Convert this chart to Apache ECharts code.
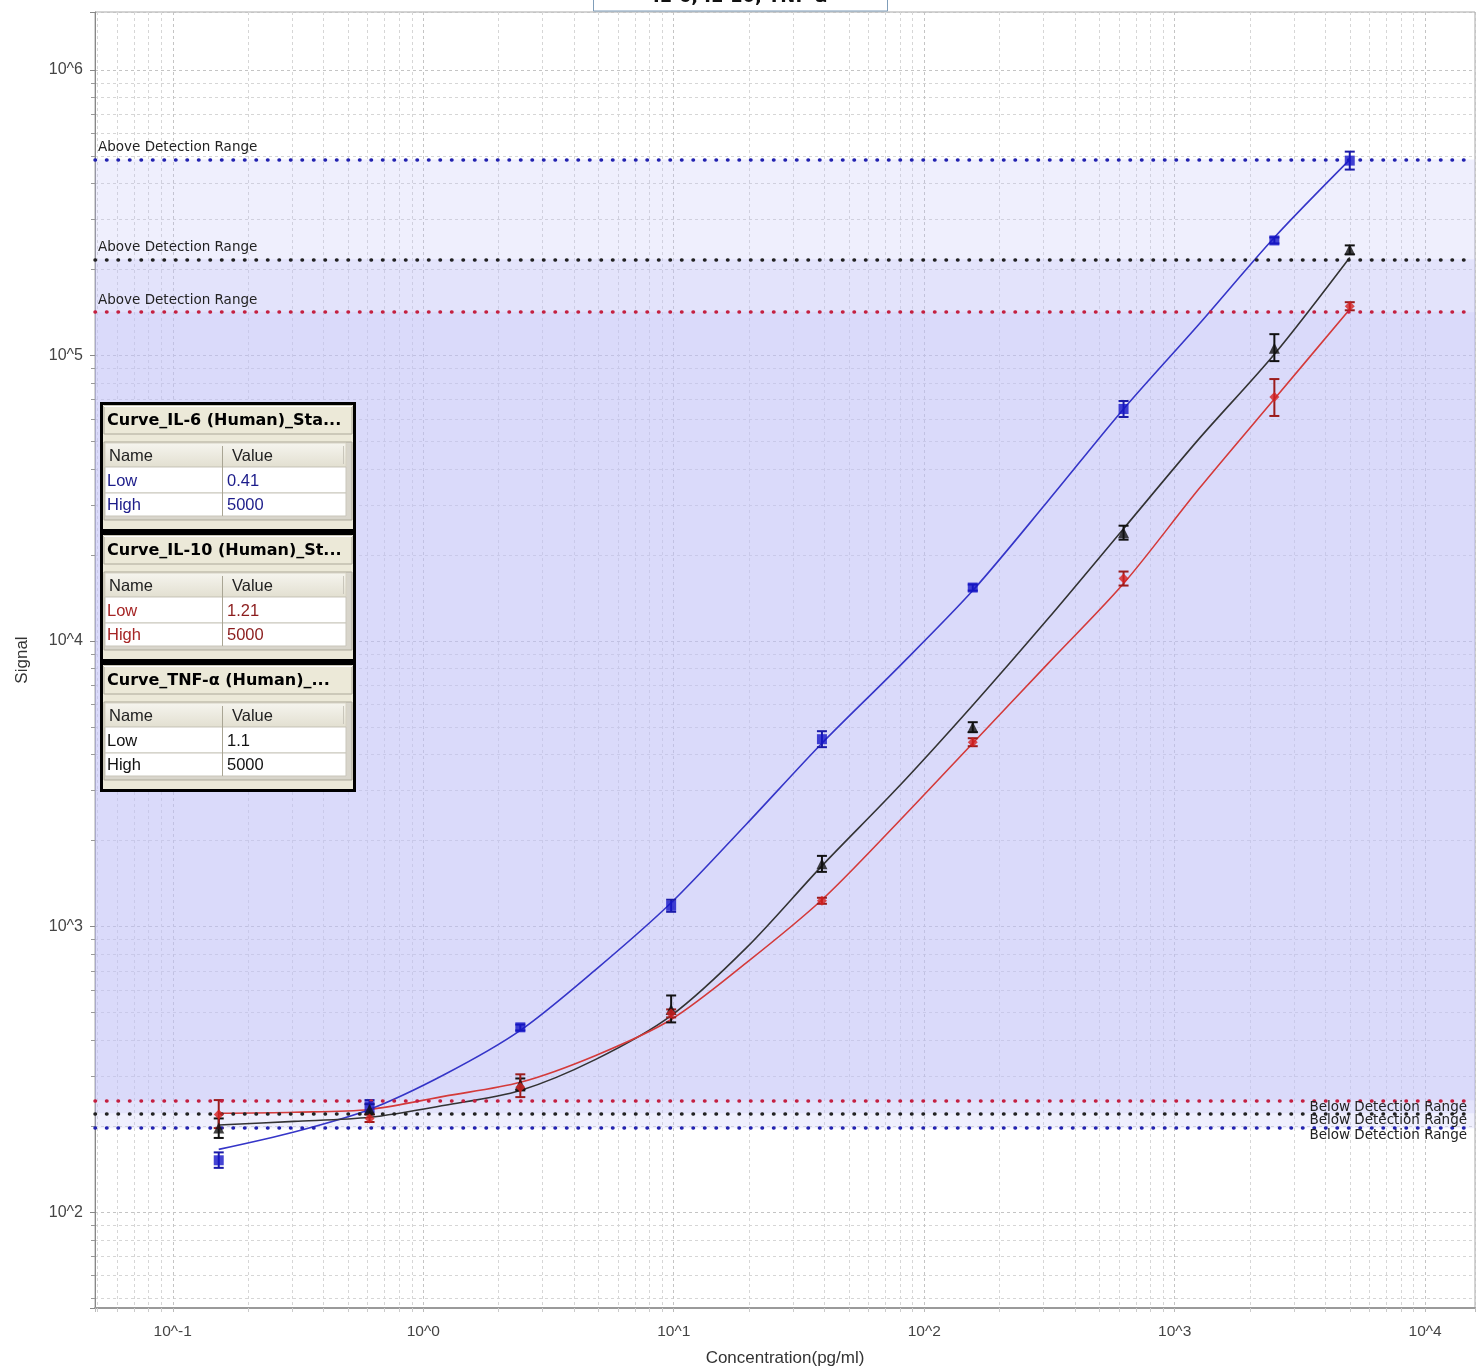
<!DOCTYPE html>
<html>
<head>
<meta charset="utf-8">
<title>IL-6, IL-10, TNF-α standard curves</title>
<script src="https://cdn.jsdelivr.net/npm/echarts@6/dist/echarts.min.js"></script>
<style>
  html, body { margin: 0; padding: 0; background: #fff; }
  #chart { width: 1478px; height: 1372px; }
</style>
</head>
<body>
<div id="chart"></div>
<script>
// Standard concentrations (pg/ml)
const conc = [0.1526, 0.6104, 2.441, 9.766, 39.06, 156.25, 625, 2500, 5000];
// Concentrations at which the fitted curves are sampled
const fitConc = [0.1526, 0.3052, 0.6104, 1.221, 2.441, 4.883, 9.766, 19.53, 39.06, 78.13, 156.25, 312.5, 625, 1250, 2500, 5000];

// IL-6 (blue)
const il6Mean = [152, 235, 444, 1183, 4532, 15390, 64930, 252700, 481000];
const il6Low  = [143, 224, 433, 1127, 4250, 15020, 60880, 246700, 447500];
const il6High = [162, 247, 454, 1242, 4834, 15770, 69260, 258900, 517100];
const il6Fit  = [166, 191, 229, 304, 433, 707, 1212, 2288, 4388, 8024, 15020, 30980, 64930, 128600, 258900, 484900];
const il6Limits = [196.8, 484900];

// TNF-α (black)
const tnfMean = [197, 229, 280, 513, 1659, 4992, 23950, 106000, 235100];
const tnfLow  = [182, 220, 267, 462, 1555, 4795, 22640, 95520, 225800];
const tnfHigh = [213, 239, 294, 574, 1769, 5197, 25340, 118700, 242800];
const tnfFit  = [202, 208, 215, 237, 267, 343, 488, 844, 1632, 3056, 5961, 11990, 24740, 51020, 101000, 220400];
const tnfLimits = [222, 217000];

// IL-10 (red)
const il10Mean = [220, 213, 274, 496, 1232, 4424, 16550, 71530, 148700];
const il10Low  = [197, 207, 253, 481, 1202, 4283, 15640, 61380, 143900];
const il10High = [247, 220, 304, 513, 1262, 4568, 17510, 82650, 153600];
const il10Fit  = [222, 224, 229, 255, 285, 354, 473, 748, 1242, 2307, 4388, 8350, 15890, 34120, 70390, 145100];
const il10Limits = [246.5, 141700];

// Range tables
const tableTitles = ['Curve_IL-6 (Human)_Sta...', 'Curve_IL-10 (Human)_St...', 'Curve_TNF-α (Human)_...'];
const tableHeader = ['Name', 'Value'];
const tableRowNames = ['Low', 'High'];
const tableLowValues = ['0.41', '1.21', '1.1'];
const tableHighValues = ['5000', '5000', '5000'];

const chartTitle = 'IL-6, IL-10, TNF-α';
const xName = 'Concentration(pg/ml)';
const yName = 'Signal';
const aboveText = 'Above Detection Range';
const belowText = 'Below Detection Range';

const FONT = '"Liberation Sans", Arial, sans-serif';
const LABEL_FONT = '"DejaVu Sans", Verdana, sans-serif';

function powLabel(v) {
  const l = Math.log10(v);
  const r = Math.round(l);
  return Math.abs(l - r) < 1e-6 ? '10^' + r : '';
}

function pairs(xs, ys) { return xs.map((x, i) => [x, ys[i]]); }

const bandColor = 'rgba(192,192,246,0.26)';

function curveSeries(name, fit, limits, lineColor, limitColor) {
  return {
    name: name,
    type: 'line',
    data: pairs(fitConc, fit),
    smooth: 0.3,
    showSymbol: false,
    z: 3,
    lineStyle: { color: lineColor, width: 1.6 },
    markArea: {
      silent: true,
      itemStyle: { color: bandColor },
      data: [[{ yAxis: limits[0] }, { yAxis: limits[1] }]]
    },
    markLine: {
      silent: true,
      symbol: 'none',
      lineStyle: { color: limitColor, width: 3.5, type: [0.5, 11], cap: 'round' },
      data: [
        { yAxis: limits[1], label: { show: true, formatter: aboveText, position: 'insideStartTop', color: '#222', fontSize: 13.5, fontFamily: LABEL_FONT, distance: [3, 5] } },
        { yAxis: limits[0], label: { show: true, formatter: belowText, position: 'insideEndBottom', color: '#222', fontSize: 13.5, fontFamily: LABEL_FONT, distance: [8, 0] } }
      ]
    }
  };
}

function markerSeries(name, mean, symbol, size, color) {
  return {
    name: name + ' points',
    type: 'scatter',
    data: pairs(conc, mean),
    symbol: symbol,
    symbolSize: size,
    z: 5,
    itemStyle: { color: color }
  };
}

function errorSeries(name, low, high, color) {
  return {
    name: name + ' error',
    type: 'custom',
    z: 4,
    data: conc.map((c, i) => [c, low[i], high[i]]),
    renderItem: function (params, api) {
      const x = api.value(0);
      const p1 = api.coord([x, api.value(1)]);
      const p2 = api.coord([x, api.value(2)]);
      const hw = 5;
      const style = { stroke: color, lineWidth: 2 };
      return {
        type: 'group',
        children: [
          { type: 'line', shape: { x1: p1[0], y1: p1[1], x2: p2[0], y2: p2[1] }, style: style },
          { type: 'line', shape: { x1: p1[0] - hw, y1: p1[1], x2: p1[0] + hw, y2: p1[1] }, style: style },
          { type: 'line', shape: { x1: p2[0] - hw, y1: p2[1], x2: p2[0] + hw, y2: p2[1] }, style: style }
        ]
      };
    }
  };
}

// Range tables drawn as graphic elements on their own layer
function buildTable(i, textColor, nameColor) {
  const top = 402 + i * 130;
  const left = 100;
  const els = [];
  const add = (el) => { el.zlevel = 2; el.z = 100 + els.length; els.push(el); };
  add({ type: 'rect', shape: { x: left + 1.5, y: top + 1.5, width: 253, height: 127 },
    style: { fill: '#ece9d8', stroke: '#000', lineWidth: 3 } });
  // title bar
  add({ type: 'rect', shape: { x: left + 4, y: top + 4, width: 248, height: 28 },
    style: { fill: '#ece9d8', stroke: '#aca899', lineWidth: 1 } });
  add({ type: 'line', shape: { x1: left + 4, y1: top + 4.5, x2: left + 252, y2: top + 4.5 },
    style: { stroke: '#fff', lineWidth: 1 } });
  add({ type: 'text', x: left + 7, y: top + 19,
    style: { text: tableTitles[i], fill: '#000', font: 'bold 16px "DejaVu Sans", Verdana, sans-serif', textVerticalAlign: 'middle' } });
  // table body
  add({ type: 'rect', shape: { x: left + 4, y: top + 40, width: 248, height: 78 },
    style: { fill: '#d8d5cb', stroke: '#aca899', lineWidth: 1 } });
  add({ type: 'rect', shape: { x: left + 5, y: top + 41, width: 241, height: 24 },
    style: { fill: { type: 'linear', x: 0, y: 0, x2: 0, y2: 1, colorStops: [{ offset: 0, color: '#f6f5ef' }, { offset: 1, color: '#e2dfd0' }] }, stroke: '#d6d2c2', lineWidth: 1 } });
  add({ type: 'rect', shape: { x: left + 5, y: top + 65, width: 241, height: 26 },
    style: { fill: '#fff', stroke: '#c9c6bb', lineWidth: 1 } });
  add({ type: 'rect', shape: { x: left + 5, y: top + 91, width: 241, height: 23 },
    style: { fill: '#fff', stroke: '#c9c6bb', lineWidth: 1 } });
  add({ type: 'line', shape: { x1: left + 122.5, y1: top + 44, x2: left + 122.5, y2: top + 114 },
    style: { stroke: '#a9a594', lineWidth: 1 } });
  add({ type: 'line', shape: { x1: left + 243.5, y1: top + 44, x2: left + 243.5, y2: top + 62 },
    style: { stroke: '#c9c6bb', lineWidth: 1 } });
  const cellFont = '16.5px ' + FONT;
  add({ type: 'text', x: left + 9, y: top + 54, style: { text: tableHeader[0], fill: '#222', font: cellFont, textVerticalAlign: 'middle' } });
  add({ type: 'text', x: left + 132, y: top + 54, style: { text: tableHeader[1], fill: '#222', font: cellFont, textVerticalAlign: 'middle' } });
  add({ type: 'text', x: left + 7, y: top + 79, style: { text: tableRowNames[0], fill: nameColor, font: cellFont, textVerticalAlign: 'middle' } });
  add({ type: 'text', x: left + 127, y: top + 79, style: { text: tableLowValues[i], fill: textColor, font: cellFont, textVerticalAlign: 'middle' } });
  add({ type: 'text', x: left + 7, y: top + 103, style: { text: tableRowNames[1], fill: nameColor, font: cellFont, textVerticalAlign: 'middle' } });
  add({ type: 'text', x: left + 127, y: top + 103, style: { text: tableHighValues[i], fill: textColor, font: cellFont, textVerticalAlign: 'middle' } });
  return els;
}

const chart = echarts.init(document.getElementById('chart'), null, { renderer: 'canvas' });

const graphicEls = [
  { type: 'rect', zlevel: 2, z: 100, shape: { x: 593.5, y: -20, width: 294, height: 31 }, style: { fill: '#fff', stroke: '#7f9db9', lineWidth: 1 } },
  { type: 'text', zlevel: 2, z: 101, x: 740, y: 6, style: { text: chartTitle, fill: '#111', font: 'bold 18px "DejaVu Sans", Verdana, sans-serif', textAlign: 'center', textVerticalAlign: 'bottom' } }
].concat(
  buildTable(0, '#1c1c8a', '#1c1c8a'),
  buildTable(1, '#8b1c1c', '#a52525'),
  buildTable(2, '#111', '#111')
);

const option = {
  animation: false,
  backgroundColor: '#fff',
  grid: { left: 95, right: -1, top: 12, bottom: 61, show: true, borderColor: '#a8a8a8', borderWidth: 1, backgroundColor: 'transparent' },
  xAxis: {
    type: 'log',
    logBase: 10,
    min: 0.04893,
    max: 15810,
    name: xName,
    nameLocation: 'middle',
    nameGap: 42,
    nameTextStyle: { fontSize: 17, color: '#333', fontFamily: FONT },
    axisLine: { show: true, lineStyle: { color: '#9a9a9a', width: 2 } },
    axisTick: { show: true, length: 4, lineStyle: { color: '#bbb' } },
    minorTick: { show: true, splitNumber: 9, length: 4, lineStyle: { color: '#ccc' } },
    axisLabel: { formatter: powLabel, fontSize: 15.5, color: '#444', fontFamily: FONT, margin: 16 },
    splitLine: { show: true, lineStyle: { color: '#c4c4c4', type: [3, 3], width: 1 } },
    minorSplitLine: { show: true, lineStyle: { color: '#d6d6d6', type: [3, 3], width: 1 } }
  },
  yAxis: {
    type: 'log',
    logBase: 10,
    min: 46.2,
    max: 1594000,
    name: yName,
    nameLocation: 'middle',
    nameGap: 64,
    nameTextStyle: { fontSize: 17, color: '#333', fontFamily: FONT },
    axisLine: { show: true, lineStyle: { color: '#888', width: 1 } },
    axisTick: { show: true, length: 5, lineStyle: { color: '#888' } },
    minorTick: { show: true, splitNumber: 9, length: 4, lineStyle: { color: '#999' } },
    axisLabel: { formatter: powLabel, fontSize: 16, color: '#444', fontFamily: FONT, margin: 12 },
    splitLine: { show: true, lineStyle: { color: '#c4c4c4', type: [3, 3], width: 1 } },
    minorSplitLine: { show: true, lineStyle: { color: '#d6d6d6', type: [3, 3], width: 1 } }
  },
  graphic: graphicEls,
  series: [
    curveSeries('IL-6', il6Fit, il6Limits, '#3535c8', '#2222b0'),
    curveSeries('TNF-α', tnfFit, tnfLimits, '#333', '#222'),
    curveSeries('IL-10', il10Fit, il10Limits, '#d43a3a', '#c42040'),
    errorSeries('IL-6', il6Low, il6High, '#1a1aa8'),
    errorSeries('TNF-α', tnfLow, tnfHigh, '#111'),
    errorSeries('IL-10', il10Low, il10High, '#9c1c1c'),
    markerSeries('IL-6', il6Mean, 'rect', 10, '#1515c8'),
    markerSeries('TNF-α', tnfMean, 'triangle', 11, '#111'),
    markerSeries('IL-10', il10Mean, 'diamond', 10, '#d42020')
  ]
};

chart.setOption(option);
</script>
</body>
</html>
